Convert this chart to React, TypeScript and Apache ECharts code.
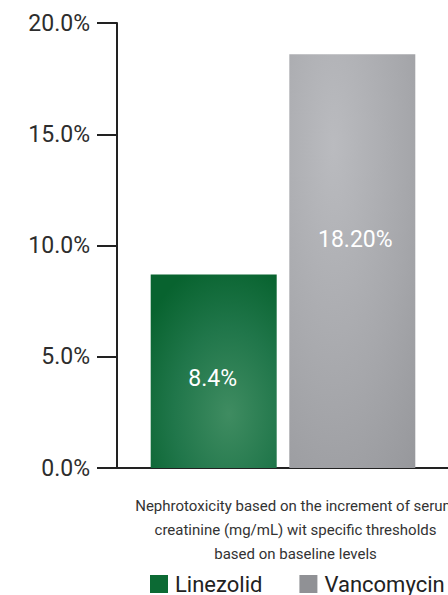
import React, { useEffect, useRef } from "react";
import * as echarts from "echarts";

const categories = [
  "Nephrotoxicity based on the increment of serum\ncreatinine (mg/mL) wit specific thresholds\nbased on baseline levels",
];
const seriesNames = ["Linezolid", "Vancomycin"];
const linezolidValues = [8.7];
const vancomycinValues = [18.6];
const valueLabels = ["8.4%", "18.20%"];
const yMin = 0;
const yMax = 20;
const yInterval = 5;

export default function App() {
  const ref = useRef<HTMLDivElement>(null);
  useEffect(() => {
    if (!ref.current) return;
    const chart = echarts.init(ref.current, null, { renderer: "svg" });
    const font = "Roboto";
    chart.setOption({
      animation: false,
      grid: { left: 117, right: -1, top: 23, bottom: 127, containLabel: false, outerBoundsMode: "none" },
      legend: {
        left: 150,
        top: 573,
        width: 600,
        padding: 0,
        icon: "rect",
        itemWidth: 18,
        itemHeight: 18,
        itemGap: 37,
        textStyle: { fontSize: 22, color: "#222", fontFamily: font, padding: [0, 0, 0, 2] },
        data: [
          { name: seriesNames[0], itemStyle: { color: "#0c6a34" } },
          { name: seriesNames[1], itemStyle: { color: "#909195" } },
        ],
      },
      xAxis: {
        type: "category",
        data: categories,
        axisLine: { show: true, lineStyle: { color: "#222", width: 2 } },
        axisTick: { show: false },
        axisLabel: {
          fontSize: 15,
          lineHeight: 24,
          color: "#333",
          fontFamily: font,
          margin: 26,
          padding: [0, 0, 0, 25],
          align: "center",
        },
      },
      yAxis: {
        type: "value",
        min: yMin,
        max: yMax,
        interval: yInterval,
        splitLine: { show: false },
        axisLine: { show: true, lineStyle: { color: "#222", width: 2 } },
        axisTick: { show: true, length: 20, lineStyle: { color: "#222", width: 2 } },
        axisLabel: {
          fontSize: 23,
          color: "#2d2d2d",
          fontFamily: font,
          margin: 27,
          formatter: (v: number) => v.toFixed(1) + "%",
        },
      },
      series: [
        {
          name: seriesNames[0],
          type: "bar",
          barWidth: 126,
          barGap: "10%",
          data: linezolidValues.map((v) => ({ value: v, label: { offset: [-1, 7] } })),
          itemStyle: {
            color: {
              type: "radial",
              x: 0.62,
              y: 0.72,
              r: 0.8,
              colorStops: [
                { offset: 0, color: "#3f8c61" },
                { offset: 0.55, color: "#20764a" },
                { offset: 1, color: "#08632f" },
              ],
            },
          },
          label: {
            show: true,
            position: "inside",
            color: "#fff",
            fontSize: 23,
            fontFamily: font,
            formatter: () => valueLabels[0],
          },
        },
        {
          name: seriesNames[1],
          type: "bar",
          barWidth: 126,
          barGap: "10%",
          data: vancomycinValues.map((v) => ({ value: v, label: { offset: [3, -22] } })),
          itemStyle: {
            color: {
              type: "radial",
              x: 0.35,
              y: 0.22,
              r: 1.2,
              colorStops: [
                { offset: 0, color: "#babbbf" },
                { offset: 0.5, color: "#a6a7ab" },
                { offset: 1, color: "#909195" },
              ],
            },
          },
          label: {
            show: true,
            position: "inside",
            color: "#fff",
            fontSize: 23,
            fontFamily: font,
            formatter: () => valueLabels[1],
          },
        },
      ],
    });
    return () => chart.dispose();
  }, []);
  return (
    <div
      ref={ref}
      style={{ position: "absolute", left: 0, top: 0, width: 448, height: 595, background: "#fff" }}
    />
  );
}
